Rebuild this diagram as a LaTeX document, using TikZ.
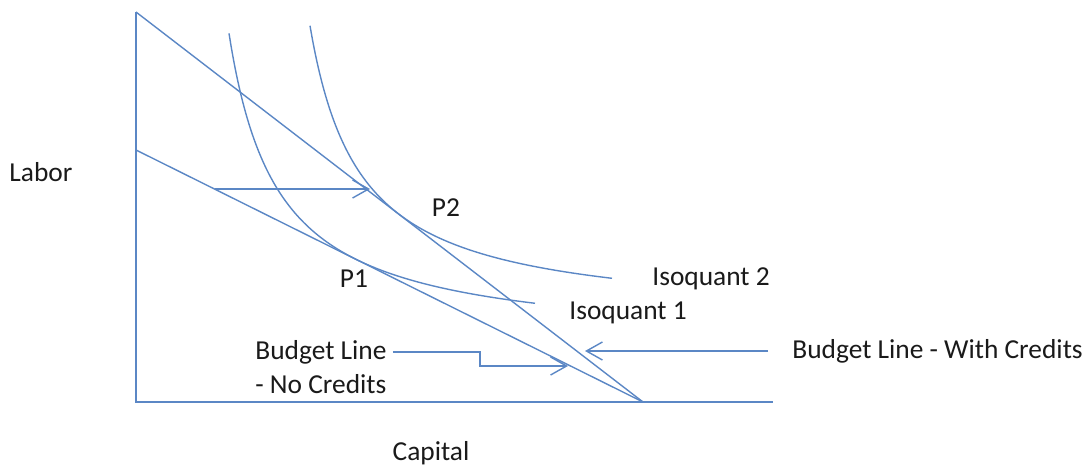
\documentclass[tikz,border=0pt]{standalone}
\usepackage{fontspec}
\setmainfont{Carlito}
\usetikzlibrary{arrows.meta,positioning,calc}
\definecolor{curveblue}{HTML}{5B87C5}
\definecolor{labelgray}{HTML}{1A1A1A}

\begin{document}
\begin{tikzpicture}[
    x=0.5pt, y=-0.5pt,
    curve/.style={draw=curveblue, line width=0.7pt},
    pointer/.style={curve, -{Straight Barb[length=8pt,width=9pt]}},
    lbl/.style={font=\fontsize{13.7}{16}\selectfont, text=labelgray, inner sep=1pt}
]
  \useasboundingbox (0,0) rectangle (1088,467);

  % axes and budget lines
  \coordinate (origin) at (136,402);
  \coordinate (ytop) at (136,12);
  \coordinate (xend) at (773,402);
  \coordinate (kink) at (643,402);
  \coordinate (bltop) at (136,150);
  \draw[curve] (ytop) -- (origin) -- (xend);
  \draw[curve] (ytop) -- (kink);
  \draw[curve] (bltop) -- (kink);

  % isoquants
  \draw[curve] plot[domain=229:535, samples=120, smooth] ({\x}, {346.5 - 15345/(\x-180)});
  \draw[curve] plot[domain=310:612, samples=120, smooth] ({\x}, {320.1 - 14718/(\x-260)});

  % labels
  \node[lbl] (labor) at (41,172) {Labor};
  \node[lbl] (capital) at (431,453) {Capital};
  \node[lbl] (ptwo) at (446,208) {P2};
  \node[lbl] (pone) at (354,279) {P1};
  \node[lbl, anchor=west] (isotwo) at (650,279) {Isoquant 2};
  \node[lbl, anchor=west] (isoone) at (567,313) {Isoquant 1};
  \node[lbl, anchor=west] (nocred) at (253,352) {Budget Line};
  \node[lbl, anchor=west] (nocredb) at (253,384) {- No Credits};
  \node[lbl, anchor=west] (withcred) at (790,351) {Budget Line - With Credits};

  % pointers
  \coordinate (shiftfrom) at (215,189);
  \coordinate (shiftto) at (370,189);
  \coordinate (stepno) at (480,366);
  \coordinate (tipno) at (568,366);
  \coordinate (tipwith) at (585,351);
  \draw[pointer] (shiftfrom) -- (shiftto);
  \draw[pointer, shorten <=2pt] (nocred.east) -- (nocred.east -| stepno) |- (tipno);
  \draw[pointer, shorten <=11pt] (withcred.west) -- (tipwith);
\end{tikzpicture}
\end{document}
